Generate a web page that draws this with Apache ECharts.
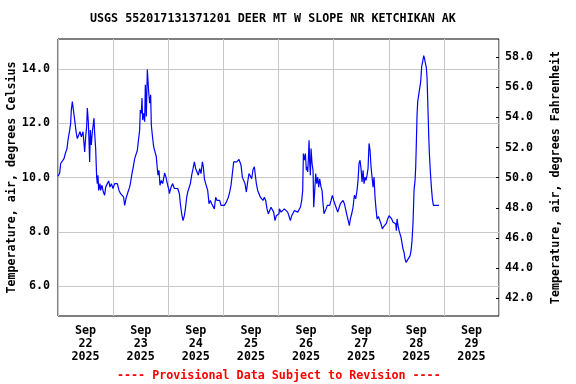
<!DOCTYPE html>
<html>
<head>
<meta charset="utf-8">
<script src="https://cdn.jsdelivr.net/npm/echarts@6/dist/echarts.min.js"></script>
<style>html,body{margin:0;padding:0;background:#fff}#c{width:576px;height:384px}</style>
</head>
<body>
<div id="c"></div>
<script>
// hours since 2025-09-22 00:00
const hours = [
0,0.73,1.16,1.74,2.61,3.19,3.92,4.35,5.08,5.51,5.8,6.24,6.82,7.26,7.98,8.42,9.0,9.58,10.16,10.88,11.32,11.61,12.04,12.48,12.77,13.2,13.49,13.78,14.07,14.51,14.95,15.38,15.67,15.96,16.4,16.83,17.12,17.41,17.7,18.28,18.57,19.15,19.73,20.31,20.75,21.47,22.06,22.64,23.22,23.94,24.67,25.83,26.55,27.28,27.86,28.58,29.02,29.75,30.47,31.2,31.63,32.21,32.79,33.37,33.95,34.53,35.11,35.55,35.84,36.28,36.57,36.86,37.29,37.73,38.02,38.45,38.89,39.18,39.47,39.9,40.34,40.63,41.06,41.64,42.22,42.8,43.24,43.53,43.97,44.4,44.98,45.56,46.43,47.01,47.59,48.32,
48.49,49.21,49.94,50.66,52.11,52.84,53.27,53.85,54.43,55.02,55.45,56.03,56.47,57.05,57.63,58.21,58.79,59.37,59.95,60.53,61.11,61.69,62.27,62.85,63.29,63.72,64.3,64.74,65.17,65.75,66.33,66.91,67.49,68.07,68.65,69.24,69.82,70.4,70.98,72.43,73.3,74.17,74.75,75.33,75.91,76.49,77.22,77.8,78.23,78.81,79.68,80.26,80.84,81.42,82.0,82.58,83.16,83.74,84.33,84.91,85.49,85.92,86.36,86.94,87.52,88.1,88.68,89.26,89.84,90.42,91.0,91.58,92.16,92.74,93.32,93.9,94.48,95.06,95.64,96.22,
96.39,97.11,97.84,98.56,99.29,100.01,100.74,101.17,101.75,102.33,102.92,103.64,104.37,104.95,105.53,106.11,106.54,106.83,107.27,107.7,108.14,108.43,108.72,109.01,109.3,109.59,109.88,110.17,110.61,111.04,111.33,111.77,112.2,112.64,113.07,113.51,113.94,114.52,114.96,115.39,115.83,116.26,116.7,117.28,117.72,118.3,118.88,119.46,120.04,120.62,121.05,121.78,122.36,122.94,123.52,124.1,124.68,125.26,125.84,126.42,126.86,127.29,127.87,128.45,129.03,129.61,130.19,130.63,131.06,131.5,131.94,132.37,132.81,133.24,133.68,134.11,134.55,134.98,135.42,135.85,136.29,136.72,137.16,137.59,138.03,138.46,138.9,139.48,140.06,140.64,141.22,141.8,142.38,142.96,143.54,144.12,
144.28,144.71,145.29,145.87,146.45,147.03,147.32,147.61,148.05,148.48,148.92,149.35,149.79,150.22,150.66,151.1,151.53,151.97,152.4,152.84,153.27,153.71,154.14,154.58,155.01,155.45,155.74,156.03,156.32,156.61,157.04,157.48,157.91,158.35,158.79,159.22,159.51,159.95,160.38,160.67,160.96,161.4,161.69,162.12,162.56,162.99,163.43,163.86,164.59,165.32,165.9
];
const tempC = [
10.05,10.17,10.52,10.58,10.70,10.89,11.07,11.38,11.75,12.0,12.49,12.80,12.74,12.12,11.63,11.44,11.38,11.69,11.5,11.69,11.26,10.95,11.5,11.88,12.56,12.07,11.38,10.58,11.75,11.2,11.69,11.75,12.19,11.63,11.07,10.02,9.78,10.09,9.53,9.78,9.53,9.72,9.47,9.35,9.65,9.78,9.88,9.65,9.78,9.6,9.78,9.78,9.53,9.41,9.47,9.28,8.98,9.28,9.47,9.65,9.84,10.15,10.4,10.70,10.77,11.0,11.44,11.75,12.49,12.37,12.93,12.12,12.37,12.06,13.42,12.25,13.98,14.0,13.17,12.74,13.05,11.94,11.57,11.14,11.07,10.77,10.33,10.09,10.27,9.72,9.9,9.78,10.17,10.02,9.78,9.53,
9.41,9.65,9.78,9.6,9.6,9.41,9.04,8.67,8.42,8.6,8.85,9.28,9.47,9.41,9.78,10.09,10.33,10.58,10.33,10.27,10.09,10.33,10.15,10.58,10.4,9.96,9.78,9.72,9.53,9.04,9.16,9.04,8.98,8.85,9.28,9.16,9.1,9.16,8.98,8.98,9.1,9.28,9.47,9.72,10.15,10.58,10.52,10.58,10.64,10.67,10.46,10.02,9.9,9.78,9.47,9.84,10.15,10.21,9.96,10.3,10.4,10.09,9.78,9.53,9.47,9.28,9.35,9.16,9.28,9.16,8.85,8.67,8.79,8.91,8.91,8.73,8.42,8.6,8.6,8.67,
8.85,8.73,8.67,8.85,8.91,8.73,8.67,8.42,8.6,8.54,8.79,8.79,8.73,8.67,8.91,9.16,9.53,10.89,10.64,10.89,10.27,10.4,10.21,10.7,11.38,10.52,10.09,11.07,10.52,10.27,8.91,9.53,10.15,9.78,10.02,9.65,9.96,9.65,9.53,9.04,8.67,8.73,8.85,8.98,9.04,8.98,9.16,9.35,9.16,9.1,8.91,8.73,8.67,9.04,9.1,9.16,9.04,8.98,8.6,8.54,8.23,8.48,8.67,8.91,9.35,9.22,9.53,9.9,10.52,10.64,10.33,9.84,10.27,9.78,10.02,9.9,10.09,10.33,11.26,11.01,10.4,10.33,9.65,10.02,9.28,8.85,8.48,8.57,8.6,8.3,8.11,8.2,8.23,8.32,8.48,8.6,
8.54,8.6,8.48,8.36,8.36,8.3,8.05,8.48,8.23,8.05,7.99,7.8,7.74,7.37,7.25,7.0,6.88,6.94,7.0,7.06,7.12,7.31,7.68,8.36,9.53,9.9,10.4,11.32,12.31,12.8,12.86,13.3,13.54,14.1,14.28,14.49,14.41,14.22,14.04,13.67,12.87,11.57,10.89,10.21,9.65,9.22,8.98,8.91,8.98,8.91,8.98
];
const dayLabels = ['22','23','24','25','26','27','28','29'];
const celsiusTicks = [6, 8, 10, 12, 14];
const fahrenheitTicks = [42, 44, 46, 48, 50, 52, 54, 56, 58];

const cMin = 4.905, cMax = 15.106;
const FONT = '"DejaVu Sans Mono", monospace';
const fs = 11.7;

const chart = echarts.init(document.getElementById('c'), null, {renderer: 'canvas'});
const data = hours.map((h, i) => [h, tempC[i]]);
const labelVals = dayLabels.map((d, i) => 12 + 24 * i);

chart.setOption({
  animation: false,
  backgroundColor: '#fff',
  title: [
    {text: 'USGS 552017131371201 DEER MT W SLOPE NR KETCHIKAN AK', left: 90, top: 13, padding: 0,
     textStyle: {fontFamily: FONT, fontSize: fs, fontWeight: 'bold', color: '#000'}},
    {text: '---- Provisional Data Subject to Revision ----', left: 117, top: 370, padding: 0,
     textStyle: {fontFamily: FONT, fontSize: fs, fontWeight: 'bold', color: '#ff0000'}}
  ],
  grid: {left: 58, right: 77, top: 39, bottom: 68, containLabel: false, outerBoundsMode: 'none',
    show: true, borderColor: '#000', borderWidth: 1, backgroundColor: 'transparent'},
  xAxis: {
    type: 'value', min: 0, max: 192, interval: 24,
    axisLine: {show: false}, axisTick: {show: false},
    splitLine: {show: true, lineStyle: {color: '#c8c8c8', width: 1}},
    axisLabel: {
      customValues: labelVals, margin: 8, lineHeight: 13,
      fontFamily: FONT, fontSize: fs, fontWeight: 'bold', color: '#000',
      formatter: v => 'Sep\n' + dayLabels[Math.round((v - 12) / 24)] + '\n2025'
    }
  },
  yAxis: [
    {
      type: 'value', min: cMin, max: cMax, position: 'left',
      name: 'Temperature, air, degrees Celsius', nameLocation: 'middle', nameRotate: 90, nameGap: 40,
      nameMoveOverlap: false,
      nameTextStyle: {fontFamily: FONT, fontSize: fs, fontWeight: 'bold', color: '#000'},
      axisLine: {show: false},
      axisTick: {show: false, customValues: celsiusTicks},
      splitLine: {show: true, lineStyle: {color: '#c8c8c8', width: 1}},
      axisLabel: {customValues: celsiusTicks, margin: 8, fontFamily: FONT, fontSize: fs, fontWeight: 'bold', color: '#000',
        formatter: v => v.toFixed(1)}
    },
    {
      type: 'value', min: cMin * 1.8 + 32, max: cMax * 1.8 + 32, position: 'right',
      name: 'Temperature, air, degrees Fahrenheit', nameLocation: 'middle', nameRotate: 90, nameGap: 51,
      nameMoveOverlap: false,
      nameTextStyle: {fontFamily: FONT, fontSize: fs, fontWeight: 'bold', color: '#000'},
      axisLine: {show: false},
      axisTick: {show: true, inside: true, length: 3, customValues: fahrenheitTicks, lineStyle: {color: '#000'}},
      splitLine: {show: false},
      axisLabel: {customValues: fahrenheitTicks, margin: 6, fontFamily: FONT, fontSize: fs, fontWeight: 'bold', color: '#000',
        formatter: v => v.toFixed(1)}
    }
  ],
  series: [{
    type: 'line', data: data, xAxisIndex: 0, yAxisIndex: 0,
    showSymbol: false, symbol: 'none',
    lineStyle: {color: '#0000ff', width: 1.2}, itemStyle: {color: '#0000ff'}
  }]
});
</script>
</body>
</html>
